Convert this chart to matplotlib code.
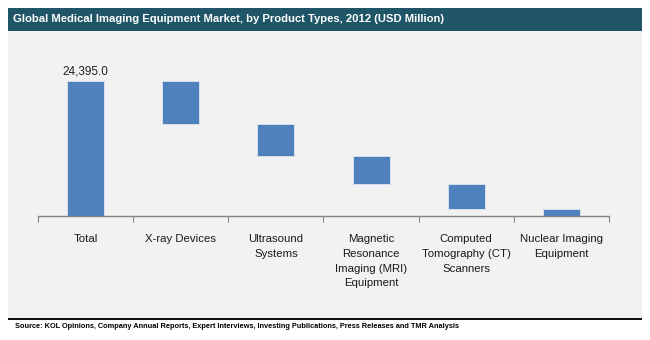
import matplotlib
matplotlib.use("Agg")
import matplotlib.pyplot as plt
import numpy as np
from matplotlib.patches import Rectangle

plt.rcParams['font.family'] = ['Liberation Sans', 'DejaVu Sans']

categories = ["Total", "X-ray Devices", "Ultrasound\nSystems",
              "Magnetic\nResonance\nImaging (MRI)\nEquipment",
              "Computed\nTomography (CT)\nScanners",
              "Nuclear Imaging\nEquipment"]
total = 24395.0
segments = [7730, 5800, 5120, 4420, 1325]

title = "Global Medical Imaging Equipment Market, by Product Types, 2012 (USD Million)"
source = ("Source: KOL Opinions, Company Annual Reports, Expert Interviews, "
          "Investing Publications, Press Releases and TMR Analysis")

W, H = 650, 340
fig = plt.figure(figsize=(W / 100, H / 100), dpi=100)
fig.patch.set_facecolor("white")

def px(x0, y0, x1, y1):
    # pixel box (top-left origin) -> figure fraction rect
    return [x0 / W, 1 - y1 / H, (x1 - x0) / W, (y1 - y0) / H]

# gray panel + title bar + bottom rule
fig.patches.append(Rectangle((8 / W, 1 - 318 / H), 634 / W, 287 / H,
                             transform=fig.transFigure, facecolor="#f2f2f2",
                             edgecolor="none", zorder=-5))
fig.patches.append(Rectangle((8 / W, 1 - 31 / H), 634 / W, 23 / H,
                             transform=fig.transFigure, facecolor="#1f5566",
                             edgecolor="none", zorder=-5))
fig.patches.append(Rectangle((8 / W, 1 - 319.5 / H), 634 / W, 2 / H,
                             transform=fig.transFigure, facecolor="#111111",
                             edgecolor="none", zorder=-5))
fig.text(13 / W, 1 - 19.5 / H, title, color="white", fontsize=8.15,
         fontweight="bold", va="center", ha="left")
fig.text(15 / W, 1 - 326 / H, source, color="black", fontsize=5.3,
         fontweight="bold", va="center", ha="left")

ax = fig.add_axes(px(38, 45, 609, 216))
ax.set_zorder(5)
ax.set_facecolor("none")

x = np.arange(len(categories))
heights = [total] + segments
bottoms = [0] + list(total - np.cumsum(segments))
bars = ax.bar(x, heights, bottom=bottoms, width=0.39, color="#4f81bd",
              edgecolor="#dce6f2", linewidth=0.6)

ax.text(x[0], total + 700, "{:,.1f}".format(total), ha="center", va="bottom",
        fontsize=8.5, color="#222222")

ax.set_xlim(-0.5, len(categories) - 0.5)
ax.set_ylim(0, total * (216 - 45) / (216 - 81.3))
ax.set_yticks([])
for s in ["top", "right", "left"]:
    ax.spines[s].set_visible(False)
ax.spines["bottom"].set_color("#868686")
ax.spines["bottom"].set_linewidth(1.0)

ax.set_xticks(np.arange(-0.5, len(categories), 1.0), minor=False)
ax.set_xticklabels([])
ax.tick_params(axis="x", which="major", length=4, color="#868686",
               direction="out")
ax.set_xticks(x, minor=True)
ax.set_xticklabels(categories, minor=True, fontsize=8.2, color="#1a1a1a",
                   linespacing=1.6, va="top")
ax.tick_params(axis="x", which="minor", length=0, pad=13)

fig.savefig("out.png", dpi=100)
